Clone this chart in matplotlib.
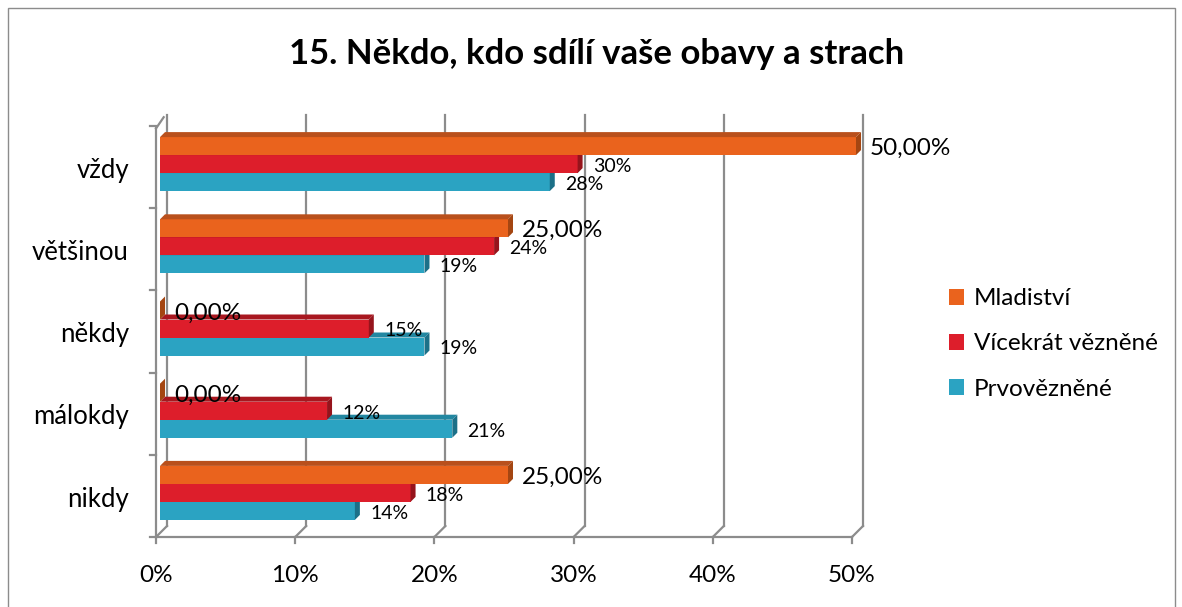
import matplotlib
matplotlib.use("Agg")
import matplotlib.pyplot as plt
from matplotlib.patches import Polygon, Rectangle, Patch

plt.rcParams['font.family'] = ['Lato', 'DejaVu Sans']

# data
categories = ["vždy", "většinou", "někdy", "málokdy", "nikdy"]
series_names = ["Mladiství", "Vícekrát vězněné", "Prvovězněné"]
mladistvi = [50, 25, 0, 0, 25]
vicekrat = [30, 24, 15, 12, 18]
prvovezn = [28, 19, 19, 21, 14]
x_ticks = [0, 10, 20, 30, 40, 50]
x_tick_labels = ["0%", "10%", "20%", "30%", "40%", "50%"]

front_cols = ["#EA631D", "#DD1E2B", "#2BA3C2"]
top_cols = ["#B9501C", "#A8171F", "#2287A1"]
side_cols = ["#A44612", "#96141C", "#1C7088"]
grid_col = "#8C8C8C"

W, H = 1182, 607
fig = plt.figure(figsize=(W / 100, H / 100), dpi=100)
ax = fig.add_axes([156 / W, (H - 537) / H, 696 / W, 411 / H])
ax.set_xlim(0, 50)
ax.set_ylim(5, 0)
ax.axis("off")

px_x = 696 / 50   # pixels per percent
px_y = 411 / 5    # pixels per category
wall_dx, wall_dy = 11 / px_x, 11 / px_y
bx0, by0 = 4 / px_x, 3 / px_y
bdx, bdy = 5 / px_x, 5 / px_y
bh = 18 / px_y

# walls / gridlines
for t in x_ticks:
    ax.plot([t + wall_dx, t + wall_dx], [-wall_dy, 5 - wall_dy], color=grid_col, lw=1.6, clip_on=False, zorder=1)
    ax.plot([t, t + wall_dx], [5, 5 - wall_dy], color=grid_col, lw=1.6, clip_on=False, zorder=1)
    ax.plot([t, t], [5, 5 + 6 / px_y], color=grid_col, lw=1.6, clip_on=False, zorder=1)
ax.plot([0, 50], [5, 5], color=grid_col, lw=1.6, clip_on=False, zorder=1)
ax.plot([0, 0], [0.03, 5], color=grid_col, lw=1.6, clip_on=False, zorder=1)
ax.plot([0, wall_dx * 0.7], [0.03, -wall_dy * 0.8], color=grid_col, lw=1.6, clip_on=False, zorder=1)
for i in range(6):
    ax.plot([-6 / px_x, 0], [i, i], color=grid_col, lw=1.6, clip_on=False, zorder=1)

# bars, bottom series first so upper bars cover hidden faces
all_vals = [mladistvi, vicekrat, prvovezn]
for s in [2, 1, 0]:
    vals = all_vals[s]
    for i, v in enumerate(vals):
        yc = i + 0.5 - by0 + (s - 1) * bh
        y0, y1 = yc - bh / 2, yc + bh / 2
        x0, x1 = bx0, bx0 + v
        z = 3 + (2 - s)
        ax.add_patch(Rectangle((x0, y0), v, bh, facecolor=front_cols[s], edgecolor="none", zorder=z, clip_on=False))
        ax.add_patch(Polygon([(x0, y0), (x1, y0), (x1 + bdx, y0 - bdy), (x0 + bdx, y0 - bdy)],
                             facecolor=top_cols[s], edgecolor="none", zorder=z, clip_on=False))
        ax.add_patch(Polygon([(x1, y0), (x1 + bdx, y0 - bdy), (x1 + bdx, y1 - bdy), (x1, y1)],
                             facecolor=side_cols[s], edgecolor="none", zorder=z, clip_on=False))
        if s == 0:
            ax.text(x1 + 1.0, yc + 0.03, f"{v:.2f}".replace(".", ",") + "%", fontsize=17.5,
                    va="center", ha="left", zorder=10, clip_on=False)
        else:
            ax.text(x1 + 1.1, yc + 0.03, f"{v}%", fontsize=14,
                    va="center", ha="left", zorder=10, clip_on=False)

# category labels
for i, c in enumerate(categories):
    ax.text(-27 / px_x, i + 0.54, c, fontsize=18.5, ha="right", va="center", clip_on=False)

# x tick labels
for t, lab in zip(x_ticks, x_tick_labels):
    ax.text(t, 5 + 38 / px_y, lab, fontsize=17.5, ha="center", va="center", clip_on=False)

fig.text(597 / W, 1 - 54 / H, "15. Někdo, kdo sdílí vaše obavy a strach", fontsize=25,
         fontweight="bold", ha="center", va="center")

handles = [Patch(facecolor=front_cols[k], edgecolor="none") for k in range(3)]
fig.legend(handles, series_names, loc="center left", bbox_to_anchor=(927 / W, 1 - 344 / H),
           frameon=False, fontsize=17.5, handlelength=0.62, handleheight=0.62,
           handletextpad=0.4, labelspacing=1.0)

fig.add_artist(Rectangle((8 / W, -0.02), (1175 - 8) / W, (H - 8) / H + 0.02, transform=fig.transFigure,
                         fill=False, edgecolor="#8C8C8C", lw=1))

fig.savefig("out.png", dpi=100)
